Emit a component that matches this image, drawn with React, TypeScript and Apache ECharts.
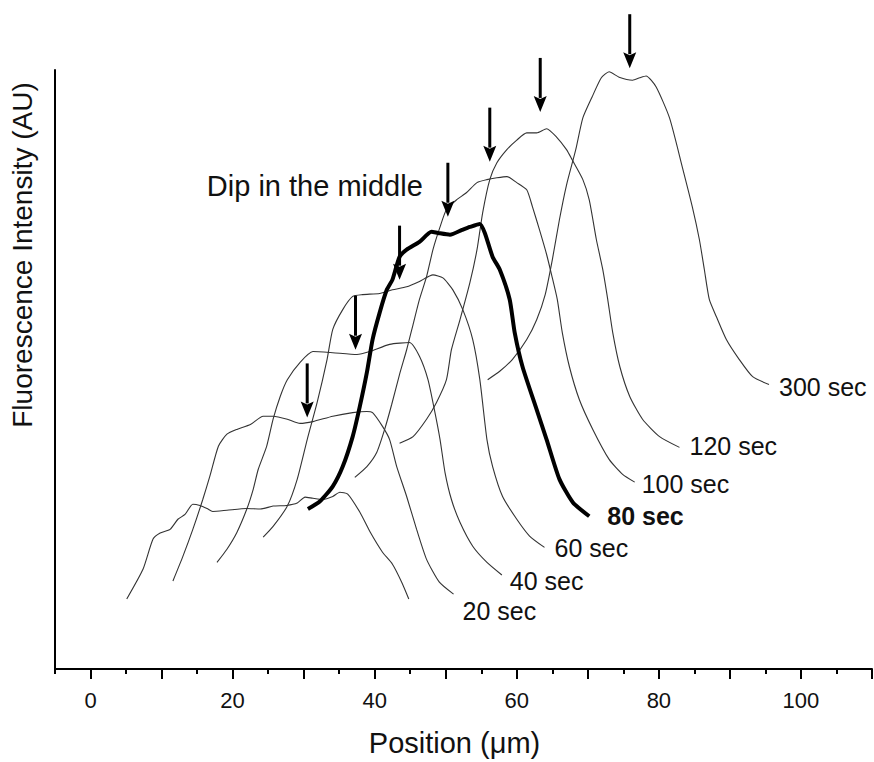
import React, { useEffect, useRef } from 'react';
import * as echarts from 'echarts';

// ---------- data ----------
const xMajorTicks = [0, 10, 20, 30, 40, 50, 60, 70, 80, 90, 100, 110];
const xMinorTicks = [-5, 5, 15, 25, 35, 45, 55, 65, 75, 85, 95, 105];
const xTickLabels = [0, 20, 40, 60, 80, 100];

const curveNames = ['0 sec', '20 sec', '40 sec', '60 sec', '80 sec', '100 sec', '120 sec', '300 sec'];

const curve0 = [[5.1,11.7],[7.4,16.7],[8.8,21.7],[9.8,22.7],[11.2,23.3],[12.3,25],[13.3,25.8],[14.4,27.5],[15.4,27.3],[16.4,26.8],[17.2,26.3],[19.2,26.5],[22.0,26.8],[23.9,26.7],[25.7,27.2],[27.6,27.3],[29.1,27.7],[30.2,28.7],[31.3,28.5],[32.7,28.3],[34.1,28.8],[35.1,29.5],[36.2,29.2],[37.9,26.2],[39.3,23],[41.1,19.5],[42.5,17.5],[43.8,14.5],[44.8,11.7]];
const curve20 = [[11.6,14.7],[13.0,18.8],[14.4,23.3],[15.8,28.3],[16.8,32.2],[18.0,37.2],[19.2,39.2],[20.6,40],[22.5,40.8],[24.3,42.2],[25.7,42.2],[27.7,41.7],[29.5,41],[31.3,41.3],[34.1,42.2],[36.9,42.8],[38.9,43],[39.7,42.8],[41.1,40.5],[42.1,38.3],[43.1,33.8],[44.5,28.8],[45.9,23.3],[47.3,18.3],[49.1,14.5],[51.1,12.5]];
const curve40 = [[17.8,17.8],[19.2,20],[20.6,22.8],[22.0,26.7],[22.9,30],[23.6,33.3],[24.8,37.2],[25.7,41.7],[26.7,45.5],[27.7,48.3],[29.5,51.2],[31.3,53],[34.1,52.8],[37.5,52.5],[39.3,53],[42.1,54.2],[44.9,54.5],[46.3,52.2],[47.5,48.3],[48.4,43.3],[49.2,38.3],[49.9,32.8],[50.8,28.3],[52.0,24.5],[53.8,20.5],[55.8,17.8],[57.9,15.7]];
const curve60 = [[24.3,22],[25.7,23.8],[27.7,27.2],[29.1,31.7],[30.5,38.3],[31.9,44.5],[33.3,51.7],[34.1,56.7],[35.5,60],[36.9,62.2],[38.3,62.5],[40.7,62.7],[42.5,63.3],[44.5,63.8],[46.3,64.7],[48.2,65.8],[49.6,65.3],[51.0,63.3],[52.4,60],[53.8,55],[54.8,48.3],[55.8,38.3],[56.6,33.8],[58.0,28.8],[60.0,25],[61.8,22.2],[63.9,20.3]];
const curve80 = [[30.6,26.7],[32.3,28],[34.1,30.5],[35.5,33.8],[36.9,38.8],[37.9,43.8],[38.9,49.5],[39.7,55],[40.7,59.5],[41.7,63.3],[42.5,65],[43.5,68.8],[44.5,70],[46.3,71.3],[48.0,73],[48.9,72.8],[50.6,72.5],[52.3,73.3],[53.4,73.8],[54.8,74.3],[55.5,72.8],[56.6,68.8],[57.6,66.7],[59.0,61.7],[59.7,56.2],[60.8,50.5],[62.8,43.3],[64.2,38.3],[66.0,31.7],[67.9,27.8],[70.2,25.5]];
const curve100 = [[37.2,32],[38.9,33.8],[40.3,36.2],[41.4,40],[42.4,44.2],[43.5,49.2],[44.5,53.3],[45.4,57.5],[46.3,61.7],[47.3,65.5],[48.2,70],[49.2,73.8],[50.1,76.7],[51.5,78.3],[52.9,79.5],[54.4,81.2],[55.8,81.7],[57.2,82],[58.6,82.2],[60.0,81.2],[61.4,80],[62.2,77.2],[63.2,73.3],[64.2,69.2],[64.9,65.8],[65.7,61.7],[66.4,56.2],[67.4,50.5],[68.8,45],[70.7,40],[73.0,35],[74.9,32.5],[76.6,31.2]];
const curve120 = [[43.5,37.7],[45.4,38.8],[47.3,41.7],[48.7,44.5],[50.1,48.3],[50.8,53.3],[52.0,58.3],[53.4,64.5],[54.4,70],[55.2,76.2],[56.2,81.7],[57.2,84.5],[58.6,86.7],[60.0,88.3],[61.4,89.5],[62.8,89.5],[64.2,90.2],[65.6,88.8],[67.0,86.7],[67.8,85],[69.3,81.7],[70.2,78.3],[71.2,71.7],[72.1,66.7],[72.8,61.7],[73.5,56.2],[74.5,50.5],[75.9,45.5],[77.7,41.7],[80.1,38.8],[82.9,37]];
const curve300 = [[55.9,48.3],[57.6,49.7],[59.4,51.7],[61.4,55],[62.8,58.3],[64.0,62.5],[65.0,68.3],[66.0,75],[67.0,80.8],[68.3,86.7],[69.3,92],[70.6,95.5],[71.9,98.7],[73.0,99.7],[74.4,98.8],[76.3,98.3],[77.3,98.7],[78.2,99],[79.6,97.2],[81.5,92],[83.3,83.8],[84.7,77.2],[85.7,71.7],[86.4,66.7],[87.1,61.7],[88.1,58.8],[89.5,55],[91.3,51.7],[93.2,48.8],[95.5,47.5]];

const curves = [curve0, curve20, curve40, curve60, curve80, curve100, curve120, curve300];

// arrows marking the dip of each profile (tip positions)
const arrowX = [30.5, 37.3, 43.5, 50.3, 56.2, 63.3, 75.9];
const arrowTipY = [42, 53.3, 65, 75.5, 84.7, 93, 100.3];

const annotationText = 'Dip in the middle';
const annotationAt = [16.3, 80.7];

const xTitle = 'Position (\u03bcm)';
const yTitle = 'Fluorescence Intensity (AU)';

// ---------- styles ----------
const FONT = "'Liberation Sans', Arial, Helvetica, sans-serif";
const BOLD_INDEX = 4;
const ARROW_SHAFT_PX = 54;
const ARROW_HEAD_PX = 16;
const ARROW_HALF_W = 6.5;
const labelOffsets: number[][] = [[0, 0], [9, 17], [8, 6], [10, 1], [18, 0], [7, 2], [10, -1], [10, 3]];

export default function App() {
  const ref = useRef<HTMLDivElement>(null);

  useEffect(() => {
    if (!ref.current) return;
    const chart = echarts.init(ref.current, null, { renderer: 'svg' });

    const series: any[] = curves.map((data, i) => ({
      type: 'line',
      name: curveNames[i],
      data,
      showSymbol: false,
      smooth: 0.2,
      silent: true,
      z: i === BOLD_INDEX ? 4 : 2,
      lineStyle: {
        width: i === BOLD_INDEX ? 4 : 1.1,
        color: i === BOLD_INDEX ? '#000' : '#333',
      },
      endLabel: i === 0
        ? { show: false }
        : {
            show: true,
            formatter: '{a}',
            distance: 0,
            offset: labelOffsets[i],
            fontSize: 25,
            fontFamily: FONT,
            color: '#111',
            fontWeight: i === BOLD_INDEX ? 'bold' : 'normal',
          },
    }));

    series.push({
      type: 'custom',
      name: 'arrows',
      data: arrowX.map((x, i) => [x, arrowTipY[i]]),
      clip: false,
      silent: true,
      z: 5,
      renderItem: (_params: any, api: any) => {
        const p = api.coord([api.value(0), api.value(1)]);
        return {
          type: 'group',
          children: [
            {
              type: 'line',
              shape: { x1: p[0], y1: p[1] - ARROW_SHAFT_PX, x2: p[0], y2: p[1] - ARROW_HEAD_PX + 2 },
              style: { stroke: '#000', lineWidth: 3 },
            },
            {
              type: 'polygon',
              shape: {
                points: [
                  [p[0] - ARROW_HALF_W, p[1] - ARROW_HEAD_PX],
                  [p[0], p[1] - ARROW_HEAD_PX + 3],
                  [p[0] + ARROW_HALF_W, p[1] - ARROW_HEAD_PX],
                  [p[0], p[1]],
                ],
              },
              style: { fill: '#000' },
            },
          ],
        };
      },
    });

    series.push({
      type: 'line',
      name: 'annotation',
      data: [],
      silent: true,
      markPoint: {
        silent: true,
        animation: false,
        symbol: 'circle',
        symbolSize: 1,
        itemStyle: { color: 'rgba(0,0,0,0)' },
        label: {
          show: true,
          position: 'right',
          distance: 0,
          formatter: annotationText,
          fontSize: 29,
          fontFamily: FONT,
          color: '#111',
        },
        data: [{ coord: annotationAt }],
      },
    });

    chart.setOption({
      animation: false,
      backgroundColor: '#fff',
      textStyle: { fontFamily: FONT },
      grid: { left: 55, right: 2, top: 70, bottom: 92, containLabel: false },
      xAxis: [
        {
          type: 'value',
          min: -5,
          max: 110,
          name: xTitle,
          nameLocation: 'middle',
          nameGap: 59,
          nameTextStyle: { fontSize: 29, color: '#111', fontFamily: FONT, padding: [0, 18, 0, 0] },
          axisLine: { show: true, onZero: false, lineStyle: { color: '#000', width: 2 } },
          axisTick: { show: true, customValues: xMajorTicks, length: 10, lineStyle: { color: '#000', width: 2 } },
          axisLabel: { show: true, customValues: xTickLabels, fontSize: 22, margin: 20, color: '#111', fontFamily: FONT },
          splitLine: { show: false },
        },
        {
          type: 'value',
          min: -5,
          max: 110,
          position: 'bottom',
          axisLine: { show: false, onZero: false },
          axisTick: { show: true, customValues: xMinorTicks, length: 5, lineStyle: { color: '#000', width: 2 } },
          axisLabel: { show: false },
          splitLine: { show: false },
        },
      ],
      yAxis: {
        type: 'value',
        min: 0,
        max: 100,
        position: 'left',
        axisLine: { show: true, onZero: false, lineStyle: { color: '#000', width: 2 } },
        axisTick: { show: false },
        axisLabel: { show: false },
        splitLine: { show: false },
      },
      graphic: [
        {
          type: 'text',
          x: 22,
          y: 255,
          rotation: Math.PI / 2,
          silent: true,
          style: {
            text: yTitle,
            fontSize: 28,
            fontFamily: FONT,
            fill: '#111',
            align: 'center',
            verticalAlign: 'middle',
          },
        },
      ],
      series,
    });

    return () => chart.dispose();
  }, []);

  return <div ref={ref} style={{ position: 'fixed', left: 0, top: 0, width: 874, height: 762 }} />;
}
